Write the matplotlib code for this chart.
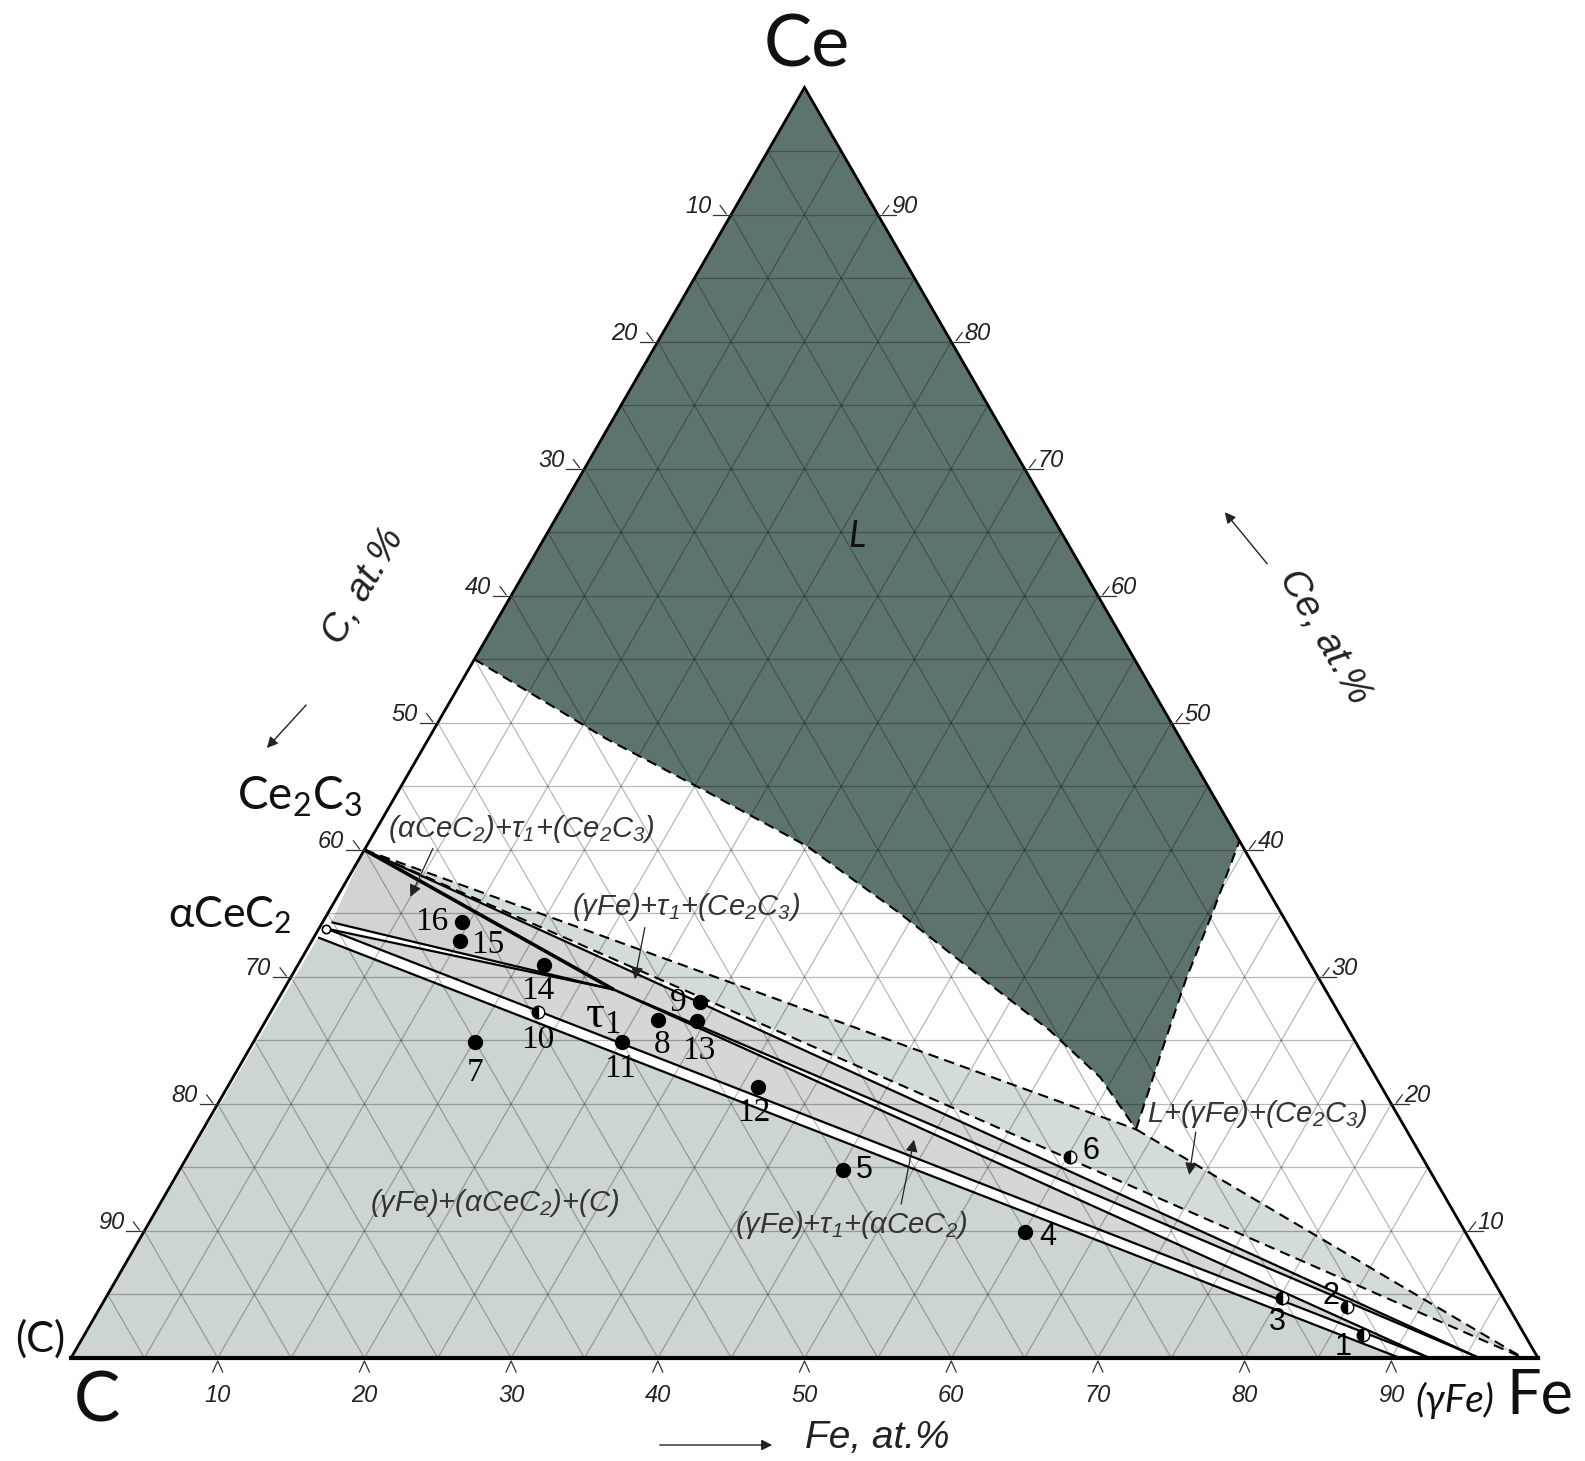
import numpy as np
import matplotlib
matplotlib.use("Agg")
import matplotlib.pyplot as plt
from matplotlib.patches import Polygon

plt.rcParams['mathtext.default'] = 'regular'

# ------------------------------------------------------------------------------------------
# compositions as (at.% Fe, at.% Ce); C is the balance

node_ce2c3 = (0.0, 40.0)
node_cec2_top = (0.6, 34.3)
node_cec2_mid = (0.5, 33.8)
node_cec2_bot = (0.3, 33.1)
node_tau1 = (22.5, 29.0)
node_gfe_a = (90.6, 0.0)
node_gfe_b = (92.6, 0.0)
node_gfe_c = (96.0, 0.0)
node_gfe_d = (99.0, 0.0)
node_l_tip = (63.6, 18.0)

# liquid boundary, left (curved) branch from the C-Ce edge down to the tip
l_left_fe = [0.0, 12.0, 21.0, 30.0, 39.0, 47.3, 53.8, 59.1, 63.6]
l_left_ce = [55.0, 48.8, 44.6, 40.3, 35.0, 29.8, 25.8, 22.1, 18.0]
# liquid boundary, right branch from the tip up to the Fe-Ce edge
l_right_fe = [63.6, 62.2, 61.1, 60.3, 59.3]
l_right_ce = [18.0, 24.5, 29.8, 35.0, 40.7]

# alloys
alloy_no = ["1", "2", "3", "4", "5", "6", "7", "8", "9", "10", "11", "12", "13", "14", "15", "16"]
alloy_fe = [87.2, 85.0, 80.2, 60.1, 45.2, 60.2, 15.1, 26.7, 28.9, 18.2, 25.1, 36.2, 29.4, 16.8, 10.1, 9.5]
alloy_ce = [1.8, 4.0, 4.7, 9.9, 14.8, 15.8, 24.9, 26.6, 28.0, 27.2, 24.9, 21.3, 26.5, 30.9, 32.8, 34.3]
alloy_half = [True, True, True, False, False, True, False, False, False, True, False, False, False, False, False, False]

tick_values = [10, 20, 30, 40, 50, 60, 70, 80, 90]

# ------------------------------------------------------------------------------------------
SQ = np.sqrt(3) / 2
SIDE_PX = 1467.0
X0_PX, Y0_PX = 71.0, 1358.0


def tern(fe, ce):
    fe = np.asarray(fe, dtype=float)
    ce = np.asarray(ce, dtype=float)
    return fe / 100 + ce / 200, ce / 100 * SQ


def at(px, py):
    # layout helper: image pixel -> axes data
    return (px - X0_PX) / SIDE_PX, (Y0_PX - py) / SIDE_PX


def seg(a, b, **kw):
    x, y = tern([a[0], b[0]], [a[1], b[1]])
    ax.plot(x, y, solid_capstyle='butt', **kw)


def poly(pts, color, z=1):
    fe, ce = zip(*pts)
    x, y = tern(fe, ce)
    ax.add_patch(Polygon(np.column_stack([x, y]), closed=True, facecolor=color, edgecolor='none', zorder=z))


PX = 1 / SIDE_PX

fig = plt.figure(figsize=(15.85, 14.61), dpi=100)
ax = fig.add_axes([0, 0, 1, 1])
ax.set_xlim(-X0_PX / SIDE_PX, (1585 - X0_PX) / SIDE_PX)
ax.set_ylim(-(1461 - Y0_PX) / SIDE_PX, Y0_PX / SIDE_PX)
ax.axis('off')

# ---- phase fields
poly([(0, 0), node_cec2_bot, node_gfe_a], '#ccd5d2')
poly([node_ce2c3, node_cec2_top, node_tau1], '#d3d3d2')
poly([node_cec2_mid, node_tau1, node_gfe_b], '#d6d7d4')
poly([node_ce2c3, node_tau1, node_gfe_c], '#d6d7d4')
poly([node_ce2c3, node_l_tip, node_gfe_d], '#d4dcd9')

l_poly = [(0, 100)] + list(zip(l_left_fe, l_left_ce)) + list(zip(l_right_fe, l_right_ce))
poly(l_poly, '#5d7370')

# ---- grid every 5 at.%
for k in range(5, 100, 5):
    for a, b in [((0, k), (100 - k, k)), ((k, 0), (k, 100 - k)), ((100 - k, 0), (0, 100 - k))]:
        seg(a, b, color='black', alpha=0.28, lw=0.9, zorder=2)

# ---- outer triangle
x, y = tern([0, 100, 0, 0], [0, 0, 100, 0])
ax.plot(x, y, color='black', lw=2.0, zorder=6, solid_joinstyle='miter')
x, y = tern([0, 100], [0, 0])
ax.plot(x, y, color='black', lw=3.0, zorder=6)

# ---- tie lines
solid = dict(color='black', lw=1.6, zorder=4)
dashed = dict(color='black', lw=1.5, zorder=4, dashes=(5, 3))
seg(node_cec2_bot, node_gfe_a, **solid)
seg(node_cec2_mid, node_gfe_b, **solid)
seg(node_cec2_top, node_tau1, **solid)
seg(node_cec2_mid, node_tau1, **solid)
seg(node_ce2c3, node_tau1, color='black', lw=2.6, zorder=4)
seg(node_tau1, node_gfe_b, **solid)
seg(node_tau1, node_gfe_c, **solid)
seg(node_ce2c3, node_gfe_c, **solid)
seg(node_ce2c3, node_gfe_d, **dashed)
seg(node_ce2c3, node_l_tip, **dashed)
seg(node_l_tip, node_gfe_d, **dashed)

x, y = tern(l_left_fe, l_left_ce)
ax.plot(x, y, **dashed)
x, y = tern(l_right_fe, l_right_ce)
ax.plot(x, y, **dashed)

# small marker on the CeC2 composition
x, y = tern(*node_cec2_mid)
ax.plot(x, y, 'o', ms=6, mfc='white', mec='black', mew=1.2, zorder=7)

# ---- alloys
lab_off = {"1": (-20, 12), "2": (-16, -11), "3": (-5, 24), "4": (22, 5), "5": (22, 0), "6": (21, -6),
           "7": (0, 31), "8": (4, 25), "9": (-22, 0), "10": (0, 27), "11": (-2, 27), "12": (-4, 25),
           "13": (2, 29), "14": (-6, 25), "15": (28, 3), "16": (-30, 0)}
for n, fe, ce, half in zip(alloy_no, alloy_fe, alloy_ce, alloy_half):
    x, y = tern(fe, ce)
    if half:
        ax.plot(x, y, 'o', ms=9, fillstyle='left', mfc='black', mfcalt='white', mec='black', mew=1.0, zorder=8)
    else:
        ax.plot(x, y, 'o', ms=10, color='black', zorder=8)
    dx, dy = lab_off[n]
    if int(n) > 6:
        ax.text(x + dx * PX, y - dy * PX, n, ha='center', va='center', fontsize=24,
                family='Liberation Serif', zorder=9)
    else:
        ax.text(x + dx * PX, y - dy * PX, n, ha='center', va='center', fontsize=22,
                family='Liberation Sans', zorder=9)

# ---- axis ticks and numbers
num = dict(fontsize=17, style='italic', family='Liberation Sans', color='#222222')
tick = dict(color='#333333', lw=0.9, zorder=6)
for v in tick_values:
    # bottom, Fe
    x, y = tern(v, 0)
    ax.plot([x - 5 * PX, x, x + 5 * PX], [y - 14 * PX, y - 3 * PX, y - 14 * PX], **tick)
    ax.text(x, y - 37 * PX, str(v), ha='center', va='center', **num)
    # left, C
    x, y = tern(0, v)
    ax.plot([x - 18 * PX, x], [y, y], **tick)
    ax.plot([x - 11 * PX, x - 5 * PX], [y + 9 * PX, y + 1 * PX], **tick)
    ax.text(x - 20 * PX, y + 8 * PX, str(100 - v), ha='right', va='center', **num)
    # right, Ce
    x, y = tern(100 - v, v)
    ax.plot([x, x + 18 * PX], [y, y], **tick)
    ax.plot([x + 5 * PX, x + 11 * PX], [y + 1 * PX, y + 9 * PX], **tick)
    ax.text(x + 13 * PX, y + 8 * PX, str(v), ha='left', va='center', **num)

# ---- corner and phase names
big = dict(family='Lato', color='#111111', ha='center', va='center')
ax.text(*at(807, 46), 'Ce', fontsize=52, **big)
ax.text(*at(97, 1402), 'C', fontsize=50, **big)
ax.text(*at(1540, 1397), 'Fe', fontsize=44, **big)
ax.text(*at(1455, 1400), '(γFe)', fontsize=28, style='italic', **big)
ax.text(*at(40, 1339), '(C)', fontsize=30, **big)
ax.text(*at(300, 797), 'Ce$_2$C$_3$', fontsize=33, **big)
ax.text(*at(230, 915), 'αCeC$_2$', fontsize=31, **big)
ax.text(*tern(21.2, 64.7), 'L', fontsize=26, style='italic', **big)
ax.text(*tern(22.8, 26.9), 'τ$_1$', fontsize=34, family='Liberation Serif', ha='center', va='center')

# ---- phase field labels and arrows
fld = dict(fontsize=21, style='italic', family='Liberation Sans', color='#333333', ha='center', va='center', zorder=9)
ax.text(*tern(9.85, 41.65), '(αCeC$_2$)+τ$_1$+(Ce$_2$C$_3$)', **fld)
ax.text(*tern(24.2, 35.5), '(γFe)+τ$_1$+(Ce$_2$C$_3$)', **fld)
ax.text(*tern(22.8, 12.2), '(γFe)+(αCeC$_2$)+(C)', **fld)
ax.text(*tern(47.9, 10.5), '(γFe)+τ$_1$+(αCeC$_2$)', **fld)
ax.text(*tern(71.3, 19.2), 'L+(γFe)+(Ce$_2$C$_3$)', **fld)

arrows = [((4.6, 40.3), (5.0, 36.1)), ((22.1, 34.1), (23.6, 29.6)),
          ((50.6, 11.9), (48.8, 17.4)), ((67.7, 18.0), (69.1, 14.2))]
for a, b in arrows:
    ax.annotate('', xy=tern(*b), xytext=tern(*a),
                arrowprops=dict(arrowstyle='-|>', color='#222222', lw=0.9, mutation_scale=18), zorder=9)

# ---- axis titles
ttl = dict(fontsize=28, style='italic', family='Liberation Sans', color='#222222', ha='center', va='center')
ax.text(*at(364, 586), 'C, at.%', rotation=60, **ttl)
ax.text(*at(1324, 637), 'Ce, at.%', rotation=-60, **ttl)
ax.text(*at(877, 1438), 'Fe, at.%', **ttl)
ap = dict(arrowstyle='-|>', color='#222222', lw=1.0, mutation_scale=16)
ax.annotate('', xy=at(265, 750), xytext=at(308, 703), arrowprops=ap)
ax.annotate('', xy=at(1223, 510), xytext=at(1269, 566), arrowprops=ap)
ax.annotate('', xy=at(775, 1445), xytext=at(657, 1445), arrowprops=ap)

fig.savefig('out.png', dpi=100)
